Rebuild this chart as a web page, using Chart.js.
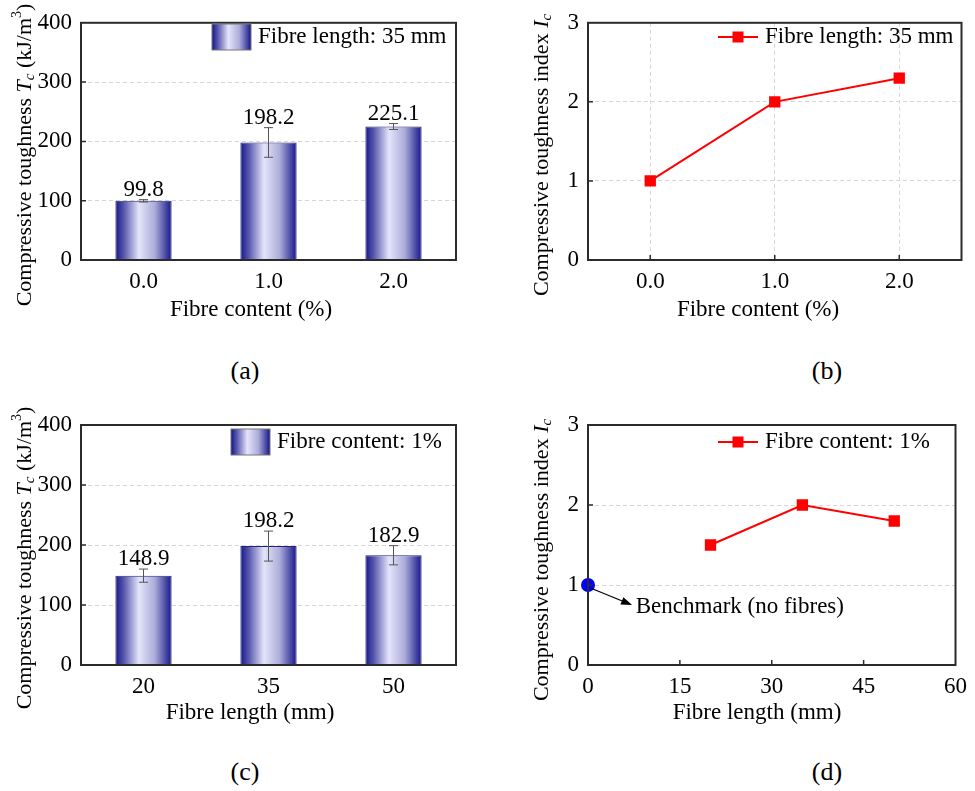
<!DOCTYPE html>
<html>
<head>
<meta charset="utf-8">
<script src="https://cdn.jsdelivr.net/npm/chart.js@4.4.0/dist/chart.umd.min.js"></script>
<style>
  body { margin: 0; background: #fff; }
  #wrap { position: relative; width: 975px; height: 791px; font-family: 'Liberation Serif', 'Times New Roman', serif; }
  .panel { position: absolute; }
  .tag { position: absolute; font-size: 26px; transform: translate(-50%, -50%); color: #000; }
</style>
</head>
<body>
<div id="wrap">
  <canvas id="chartA" class="panel" width="487" height="340" style="left:0;top:0"></canvas>
  <canvas id="chartB" class="panel" width="488" height="340" style="left:487px;top:0"></canvas>
  <canvas id="chartC" class="panel" width="487" height="340" style="left:0;top:400px"></canvas>
  <canvas id="chartD" class="panel" width="488" height="340" style="left:487px;top:400px"></canvas>
  <div class="tag" style="left:245px;top:371px">(a)</div>
  <div class="tag" style="left:827px;top:371px">(b)</div>
  <div class="tag" style="left:245px;top:772px">(c)</div>
  <div class="tag" style="left:827px;top:772px">(d)</div>
</div>
<script>
// data
const contentLabels = ['0.0', '1.0', '2.0'];
const toughnessByContent = [99.8, 198.2, 225.1];
const errorByContent = [2, 25, 5];
const indexByContent = [1.0, 2.0, 2.3];

const lengthLabels = ['20', '35', '50'];
const lengthValues = [20, 35, 50];
const toughnessByLength = [148.9, 198.2, 182.9];
const errorByLength = [11, 25, 16];
const indexByLength = [1.5, 2.0, 1.8];

const benchmarkLength = [0];
const benchmarkIndex = [1.0];

const toughnessTicks = [0, 100, 200, 300, 400];
const indexTicks = [0, 1, 2, 3];
const lengthTicks = [0, 15, 30, 45, 60];

const FONT = "'Liberation Serif', 'Times New Roman', serif";
const FS = 23;
const BAR_FRACTION = 0.45;

function gradientStops(g) {
  g.addColorStop(0, '#15158a');
  g.addColorStop(0.15, '#5858ae');
  g.addColorStop(0.42, '#e4e4fa');
  g.addColorStop(0.7, '#acacda');
  g.addColorStop(1, '#15158a');
  return g;
}

function barFill(context) {
  const chart = context.chart;
  const xs = chart.scales.x;
  if (!xs || context.dataIndex === undefined) return '#8080c0';
  const cx = xs.getPixelForValue(context.dataIndex);
  const half = xs.width / chart.data.labels.length * BAR_FRACTION / 2;
  if (!isFinite(cx) || !isFinite(half) || half <= 0) return '#8080c0';
  return gradientStops(chart.ctx.createLinearGradient(cx - half, 0, cx + half, 0));
}

function drawRich(ctx, parts, cx, cy, rotate) {
  ctx.save();
  ctx.translate(cx, cy);
  if (rotate) ctx.rotate(-Math.PI / 2);
  let total = 0;
  parts.forEach(p => { ctx.font = p.font; total += ctx.measureText(p.text).width; });
  let x = -total / 2;
  ctx.textBaseline = 'middle';
  ctx.textAlign = 'left';
  ctx.fillStyle = '#000';
  parts.forEach(p => {
    ctx.font = p.font;
    ctx.fillText(p.text, x, p.dy || 0);
    x += ctx.measureText(p.text).width;
  });
  ctx.restore();
}

const normal = FS + 'px ' + FONT;
const titleFont = '22px ' + FONT;
const italic = 'italic 22px ' + FONT;
const small = 'italic 15px ' + FONT;
const sup = '14px ' + FONT;

const toughnessTitle = [
  { text: 'Compressive toughness ', font: titleFont },
  { text: 'T', font: italic },
  { text: 'c', font: small, dy: 5 },
  { text: ' (kJ/m', font: titleFont },
  { text: '3', font: sup, dy: -8 },
  { text: ')', font: titleFont }
];
const indexTitle = [
  { text: 'Compressive toughness index ', font: titleFont },
  { text: 'I', font: italic },
  { text: 'c', font: small, dy: 5 }
];

// frame, inward ticks, titles, legend and annotation
const decor = {
  id: 'decor',
  afterDraw(chart, args, opts) {
    const { ctx, chartArea: a, scales } = chart;
    ctx.save();
    ctx.strokeStyle = '#2b2b2b';
    ctx.lineWidth = 1.5;
    ctx.beginPath();
    scales.y.ticks.forEach(t => {
      const py = scales.y.getPixelForValue(t.value);
      if (py <= a.top + 1 || py >= a.bottom - 1) return;
      ctx.moveTo(a.left, py);
      ctx.lineTo(a.left + 5, py);
    });
    if (opts.xTicks) {
      scales.x.ticks.forEach((t, i) => {
        const px = scales.x.getPixelForTick(i);
        if (px <= a.left + 1 || px >= a.right - 1) return;
        ctx.moveTo(px, a.bottom);
        ctx.lineTo(px, a.bottom - 5);
      });
    }
    ctx.stroke();
    ctx.lineWidth = 2;
    ctx.strokeRect(a.left, a.top, a.width, a.height);

    drawRich(ctx, opts.yTitle, opts.yTitleAt[0], opts.yTitleAt[1], true);
    drawRich(ctx, [{ text: opts.xTitle, font: normal }], opts.xTitleAt[0], opts.xTitleAt[1], false);

    const lg = opts.legend;
    if (lg.kind === 'bar') {
      const w = 39, h = 26;
      ctx.fillStyle = gradientStops(ctx.createLinearGradient(lg.x, 0, lg.x + w, 0));
      ctx.fillRect(lg.x, lg.y - h / 2, w, h);
      ctx.strokeStyle = '#777';
      ctx.lineWidth = 1;
      ctx.strokeRect(lg.x, lg.y - h / 2, w, h);
    } else {
      ctx.strokeStyle = '#ff0000';
      ctx.lineWidth = 2;
      ctx.beginPath();
      ctx.moveTo(lg.x, lg.y);
      ctx.lineTo(lg.x + 40, lg.y);
      ctx.stroke();
      ctx.fillStyle = '#ff0000';
      ctx.fillRect(lg.x + 20 - 5.5, lg.y - 5.5, 11, 11);
    }
    ctx.font = normal;
    ctx.fillStyle = '#000';
    ctx.textBaseline = 'middle';
    ctx.textAlign = 'left';
    ctx.fillText(lg.text, lg.textX, lg.y);

    if (opts.arrow) {
      const ar = opts.arrow;
      const x1 = scales.x.getPixelForValue(ar.from[0]), y1 = scales.y.getPixelForValue(ar.from[1]);
      const x2 = scales.x.getPixelForValue(ar.to[0]), y2 = scales.y.getPixelForValue(ar.to[1]);
      const ang = Math.atan2(y2 - y1, x2 - x1);
      ctx.strokeStyle = '#000';
      ctx.lineWidth = 1.2;
      ctx.beginPath();
      ctx.moveTo(x1, y1);
      ctx.lineTo(x2 - 8 * Math.cos(ang), y2 - 8 * Math.sin(ang));
      ctx.stroke();
      ctx.fillStyle = '#000';
      ctx.beginPath();
      ctx.moveTo(x2, y2);
      ctx.lineTo(x2 - 11 * Math.cos(ang) + 4 * Math.sin(ang), y2 - 11 * Math.sin(ang) - 4 * Math.cos(ang));
      ctx.lineTo(x2 - 11 * Math.cos(ang) - 4 * Math.sin(ang), y2 - 11 * Math.sin(ang) + 4 * Math.cos(ang));
      ctx.closePath();
      ctx.fill();
      ctx.font = normal;
      ctx.textBaseline = 'middle';
      ctx.fillText(ar.text, scales.x.getPixelForValue(ar.textAt[0]), scales.y.getPixelForValue(ar.textAt[1]));
    }
    ctx.restore();
  }
};

// error bars and value labels on the bars
const barExtras = {
  id: 'barExtras',
  afterDatasetsDraw(chart, args, opts) {
    if (!opts.errors) return;
    const { ctx, scales } = chart;
    const meta = chart.getDatasetMeta(0);
    const values = chart.data.datasets[0].data;
    ctx.save();
    meta.data.forEach((bar, i) => {
      const top = scales.y.getPixelForValue(values[i] + opts.errors[i]);
      const bot = scales.y.getPixelForValue(values[i] - opts.errors[i]);
      ctx.strokeStyle = '#555';
      ctx.lineWidth = 1;
      ctx.beginPath();
      ctx.moveTo(bar.x, top); ctx.lineTo(bar.x, bot);
      ctx.moveTo(bar.x - 4.5, top); ctx.lineTo(bar.x + 4.5, top);
      ctx.moveTo(bar.x - 4.5, bot); ctx.lineTo(bar.x + 4.5, bot);
      ctx.stroke();
      ctx.font = normal;
      ctx.fillStyle = '#000';
      ctx.textAlign = 'center';
      ctx.textBaseline = 'alphabetic';
      ctx.fillText(values[i].toFixed(1), bar.x, top - 4);
    });
    ctx.restore();
  }
};

function yAxis(min, max, step, width, showGrid) {
  return {
    min: min, max: max,
    afterFit: s => { s.width = width; },
    afterBuildTicks: s => { s.ticks = (max === 400 ? toughnessTicks : indexTicks).map(v => ({ value: v })); },
    ticks: { stepSize: step, color: '#000', padding: 9, font: { family: FONT, size: FS } },
    grid: { display: showGrid, color: '#d6d6d6', lineWidth: 1, drawTicks: false },
    border: { display: false, dash: [4, 3] }
  };
}

function baseOptions(box, extra) {
  return {
    responsive: false,
    animation: false,
    layout: { padding: { left: 0, top: box.top, right: box.right, bottom: 0 } },
    plugins: {
      legend: { display: false },
      tooltip: { enabled: false },
      decor: extra.decor,
      barExtras: extra.barExtras || {}
    },
    scales: { x: extra.x, y: extra.y }
  };
}

function categoryX(height, grid) {
  return {
    type: 'category',
    offset: true,
    afterFit: s => { s.height = height; },
    ticks: { color: '#000', padding: 8, maxRotation: 0, font: { family: FONT, size: FS } },
    grid: { display: grid, offset: false, color: '#d6d6d6', drawTicks: false },
    border: { display: false, dash: [4, 3] }
  };
}

// (a) toughness vs fibre content
new Chart(document.getElementById('chartA'), {
  type: 'bar',
  data: {
    labels: contentLabels,
    datasets: [{
      data: toughnessByContent,
      backgroundColor: barFill,
      borderColor: '#23237a',
      borderWidth: 1,
      barPercentage: BAR_FRACTION,
      categoryPercentage: 1
    }]
  },
  options: baseOptions({ top: 22, right: 31 }, {
    x: categoryX(80, false),
    y: yAxis(0, 400, 100, 81, true),
    barExtras: { errors: errorByContent },
    decor: {
      yTitle: toughnessTitle, yTitleAt: [25, 155],
      xTitle: 'Fibre content (%)', xTitleAt: [251, 310],
      legend: { kind: 'bar', x: 212, y: 37, textX: 258, text: 'Fibre length: 35 mm' }
    }
  }),
  plugins: [barExtras, decor]
});

// (b) index vs fibre content
new Chart(document.getElementById('chartB'), {
  type: 'line',
  data: {
    labels: contentLabels,
    datasets: [{
      data: indexByContent,
      borderColor: '#ff0000',
      backgroundColor: '#ff0000',
      borderWidth: 2,
      pointStyle: 'rect',
      pointRadius: 8,
      pointBorderWidth: 0
    }]
  },
  options: baseOptions({ top: 22, right: 13.5 }, {
    x: categoryX(80, true),
    y: yAxis(0, 3, 1, 101, true),
    decor: {
      xTicks: true,
      yTitle: indexTitle, yTitleAt: [55, 155],
      xTitle: 'Fibre content (%)', xTitleAt: [271, 310],
      legend: { kind: 'line', x: 231, y: 37, textX: 278, text: 'Fibre length: 35 mm' }
    }
  }),
  plugins: [decor]
});

// (c) toughness vs fibre length
new Chart(document.getElementById('chartC'), {
  type: 'bar',
  data: {
    labels: lengthLabels,
    datasets: [{
      data: toughnessByLength,
      backgroundColor: barFill,
      borderColor: '#23237a',
      borderWidth: 1,
      barPercentage: BAR_FRACTION,
      categoryPercentage: 1
    }]
  },
  options: baseOptions({ top: 25, right: 31 }, {
    x: categoryX(75, false),
    y: yAxis(0, 400, 100, 81, true),
    barExtras: { errors: errorByLength },
    decor: {
      yTitle: toughnessTitle, yTitleAt: [25, 158],
      xTitle: 'Fibre length (mm)', xTitleAt: [250, 313],
      legend: { kind: 'bar', x: 231, y: 42, textX: 277, text: 'Fibre content: 1%' }
    }
  }),
  plugins: [barExtras, decor]
});

// (d) index vs fibre length
new Chart(document.getElementById('chartD'), {
  type: 'line',
  data: {
    datasets: [{
      data: lengthValues.map((x, i) => ({ x: x, y: indexByLength[i] })),
      borderColor: '#ff0000',
      backgroundColor: '#ff0000',
      borderWidth: 2,
      pointStyle: 'rect',
      pointRadius: 8,
      pointBorderWidth: 0
    }, {
      data: benchmarkLength.map((x, i) => ({ x: x, y: benchmarkIndex[i] })),
      showLine: false,
      clip: false,
      backgroundColor: '#0000ff',
      borderColor: '#0000ff',
      pointRadius: 7,
      pointBorderWidth: 0
    }]
  },
  options: baseOptions({ top: 25, right: 14 }, {
    x: {
      type: 'linear', min: 0, max: 60,
      afterFit: s => { s.height = 75; },
      afterBuildTicks: s => { s.ticks = lengthTicks.map(v => ({ value: v })); },
      ticks: { color: '#000', padding: 8, maxRotation: 0, font: { family: FONT, size: FS } },
      grid: { display: false, drawTicks: false },
      border: { display: false }
    },
    y: yAxis(0, 3, 1, 101, true),
    decor: {
      xTicks: true,
      yTitle: indexTitle, yTitleAt: [55, 160],
      xTitle: 'Fibre length (mm)', xTitleAt: [270, 313],
      legend: { kind: 'line', x: 231, y: 42, textX: 278, text: 'Fibre content: 1%' },
      arrow: { from: [0.5, 0.96], to: [7.2, 0.75], text: 'Benchmark (no fibres)', textAt: [7.8, 0.72] }
    }
  }),
  plugins: [decor]
});
</script>
</body>
</html>
